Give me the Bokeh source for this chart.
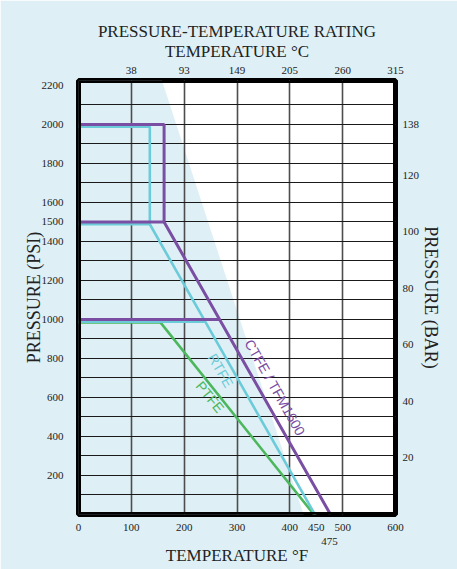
import numpy as np
from bokeh.plotting import figure
from bokeh.models import (LinearAxis, FixedTicker, Grid, Range1d, ColumnDataSource,
                          BoxAnnotation)
from bokeh.core.properties import value
from bokeh.embed import file_html
from bokeh.resources import INLINE

# ---------------- data ----------------
temp_f_ticks = [0, 100, 200, 300, 400, 450, 500, 600]
temp_f_extra = [475]
temp_c_at_f = [100, 200, 300, 400, 500, 600]
temp_c_labels = ["38", "93", "149", "205", "260", "315"]
psi_ticks = [200, 400, 600, 800, 1000, 1200, 1400, 1500, 1600, 1800, 2000, 2200]
bar_ticks = [20, 40, 60, 80, 100, 120, 138]

ptfe_temp = [0, 155, 450]
ptfe_psi = [1000, 1000, 0]
rtfe_temp = [0, 135, 135, 450]
rtfe_psi = [2000, 2000, 1500, 0]
ctfe_temp = [0, 162, 162, 477]
ctfe_psi = [2000, 2000, 1500, 0]
step_psi = [1500, 1000]

shade_temp = [0, 426, 158, 0]
shade_psi = [0, 0, 2225, 2225]

series_names = ["CTFE / TFM1600", "RTFE", "PTFE"]

# ---------------- style ----------------
BG = "#def0f5"
PURPLE = "#7a4ea2"
CYAN = "#6ccbd9"
GREEN = "#4cb75c"
TXT = "#222222"
SERIF = "Liberation Serif"
X_END = 600
Y_END = 2225
PSI_PER_BAR = 14.5038

p = figure(width=457, height=569, x_range=Range1d(0, X_END), y_range=Range1d(0, Y_END),
           output_backend="svg", toolbar_location=None,
           x_axis_location=None, y_axis_location=None,
           min_border_left=78, min_border_right=62, min_border_top=80, min_border_bottom=55,
           background_fill_color="white", border_fill_color=BG,
           outline_line_color="black", outline_line_width=5,
           title="PRESSURE-TEMPERATURE RATING")
p.title.align = "center"
p.title.text_font = SERIF
p.title.text_font_size = "17px"
p.title.text_font_style = "normal"
p.title.text_color = TXT
p.title.standoff = -5

p.extra_y_ranges = {
    "bar": Range1d(0, Y_END / PSI_PER_BAR),
    "rtfe": Range1d(12, Y_END + 12),
    "ptfe": Range1d(15, Y_END + 15),
}


def style_axis(ax, standoff):
    ax.axis_line_color = None
    ax.major_tick_line_color = None
    ax.minor_tick_line_color = None
    ax.major_tick_out = 0
    ax.major_tick_in = 0
    ax.minor_tick_out = 0
    ax.minor_tick_in = 0
    ax.major_label_text_font = SERIF
    ax.major_label_text_font_size = "11px"
    ax.major_label_text_color = TXT
    ax.major_label_standoff = standoff
    ax.axis_label_text_font = SERIF
    ax.axis_label_text_font_style = "normal"
    ax.axis_label_text_color = TXT
    ax.axis_label_text_font_size = "17px"


# bottom axis (F)
xb = LinearAxis(ticker=FixedTicker(ticks=temp_f_ticks),
                major_label_overrides={t: str(t) for t in temp_f_ticks})
style_axis(xb, 9)
p.add_layout(xb, "below")

xb2 = LinearAxis(ticker=FixedTicker(ticks=temp_f_extra),
                 major_label_overrides={t: str(t) for t in temp_f_extra},
                 axis_label="TEMPERATURE °F")
style_axis(xb2, 4)
xb2.axis_label_standoff = -2
p.add_layout(xb2, "below")

# top axis (C)
xt = LinearAxis(ticker=FixedTicker(ticks=temp_c_at_f),
                major_label_overrides=dict(zip(temp_c_at_f, temp_c_labels)),
                axis_label="TEMPERATURE °C")
style_axis(xt, 7)
xt.axis_label_standoff = 3
p.add_layout(xt, "above")

# left axis (PSI)
yl = LinearAxis(ticker=FixedTicker(ticks=psi_ticks),
                major_label_overrides={t: str(t) for t in psi_ticks},
                axis_label="PRESSURE (PSI)")
style_axis(yl, 15)
yl.axis_label_standoff = -5
yl.axis_label_text_font_size = "18px"
p.add_layout(yl, "left")

# right axis (BAR)
yr = LinearAxis(y_range_name="bar", ticker=FixedTicker(ticks=bar_ticks),
                major_label_overrides={t: str(t) for t in bar_ticks},
                axis_label="PRESSURE (BAR)")
style_axis(yr, 7)
yr.axis_label_standoff = -1
yr.axis_label_text_font_size = "18px"
p.add_layout(yr, "right")

# grids
p.add_layout(Grid(dimension=0, ticker=FixedTicker(ticks=[100, 200, 300, 400, 500]),
                  grid_line_color="#4d4d4d", grid_line_width=1.6))
p.add_layout(Grid(dimension=1, ticker=FixedTicker(ticks=list(range(100, 2200, 100))),
                  grid_line_color="#1a1a1a", grid_line_width=1.2))

# shaded region
p.patch(shade_temp, shade_psi, fill_color=BG, line_color=None, level="image")


def steps(temp, psi):
    # horizontal rating steps from 0 F to where the curve reaches that pressure
    diag_t = temp[-2:]
    diag_p = psi[-2:]
    ends = []
    for sp in step_psi:
        if sp >= diag_p[0]:
            ends.append(diag_t[0])
        else:
            ends.append(float(np.interp(sp, diag_p[::-1], diag_t[::-1])))
    return dict(x0=[0] * len(step_psi), x1=ends, y=step_psi)


# PTFE (green)
p.line(ptfe_temp, ptfe_psi, line_color=GREEN, line_width=2.6, y_range_name="ptfe")

# RTFE (cyan)
rs = steps(rtfe_temp, rtfe_psi)
p.segment(x0=rs["x0"], y0=rs["y"], x1=rs["x1"], y1=rs["y"], line_color=CYAN,
          line_width=2.6, y_range_name="rtfe")
p.line(rtfe_temp, rtfe_psi, line_color=CYAN, line_width=2.6, y_range_name="rtfe")

# CTFE (purple)
cs = steps(ctfe_temp, ctfe_psi)
p.segment(x0=cs["x0"], y0=cs["y"], x1=cs["x1"], y1=cs["y"], line_color=PURPLE,
          line_width=3)
p.line(ctfe_temp, ctfe_psi, line_color=PURPLE, line_width=3)

# series labels along the lines
lab = ColumnDataSource(dict(
    x=[372, 269, 249], y=[651, 738, 602], text=series_names,
    color=[PURPLE, CYAN, GREEN], angle=[-60.5, -60, -51]))
p.text(x="x", y="y", text="text", text_color="color", angle="angle", angle_units="deg",
       text_align="center", text_baseline="middle", text_font=value("Liberation Sans"),
       text_font_size="14px", source=lab)

# heavy black frame drawn above the shading and the curves
p.add_layout(BoxAnnotation(left=0, right=X_END, bottom=0, top=Y_END,
                           fill_color=None, fill_alpha=0, line_color="black",
                           line_alpha=1.0, line_width=5, level="annotation"))

open("out.html", "w").write(file_html(p, INLINE))
